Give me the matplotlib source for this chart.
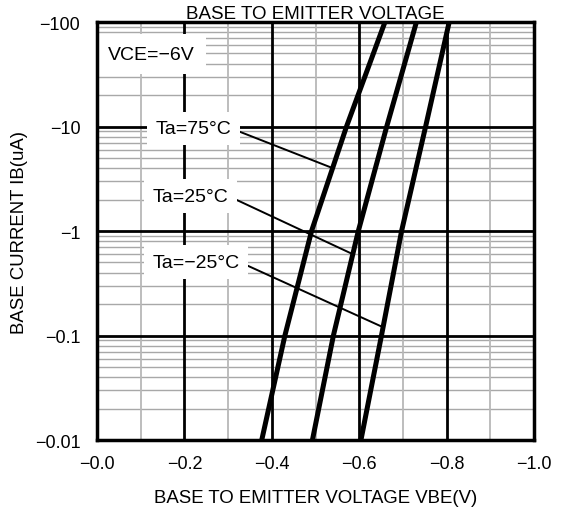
import numpy as np
import matplotlib
matplotlib.use("Agg")
import matplotlib.pyplot as plt

# ---- data (|VBE| in V, |IB| in uA) ----
ib_levels = [0.01, 0.1, 1, 10, 100]
vbe_75 = [0.377, 0.430, 0.491, 0.571, 0.659]
vbe_25 = [0.493, 0.541, 0.598, 0.663, 0.731]
vbe_m25 = [0.604, 0.651, 0.697, 0.752, 0.806]

x_ticks = [0.0, 0.2, 0.4, 0.6, 0.8, 1.0]
x_ticklabels = ["\u22120.0", "\u22120.2", "\u22120.4", "\u22120.6", "\u22120.8", "\u22121.0"]
y_ticks = [0.01, 0.1, 1, 10, 100]
y_ticklabels = ["\u22120.01", "\u22120.1", "\u22121", "\u221210", "\u2212100"]

plt.rcParams['font.family'] = ['Liberation Sans', 'DejaVu Sans']

fig = plt.figure(figsize=(5.62, 5.10), dpi=100)
ax = fig.add_axes([97/562, 1-441/510, (534-97)/562, (441-23)/510])

ax.set_yscale('log')
ax.set_xlim(0, 1.0)
ax.set_ylim(0.01, 100)

# grid
for d in [0.01, 0.1, 1, 10]:
    for k in range(2, 10):
        ax.axhline(d*k, color='#a8a8a8', lw=1.0, zorder=1)
for d in [0.1, 1, 10]:
    ax.axhline(d, color='black', lw=2.0, zorder=2)
for xv in [0.1, 0.3, 0.5, 0.7, 0.9]:
    ax.axvline(xv, color='#b8b8b8', lw=1.3, zorder=1)
for xv in [0.2, 0.4, 0.6, 0.8]:
    ax.axvline(xv, color='black', lw=2.0, zorder=2)

# curves
for v in (vbe_75, vbe_25, vbe_m25):
    ax.plot(v, ib_levels, color='black', lw=3.6, solid_capstyle='butt', zorder=4)

ax.set_xticks(x_ticks)
ax.set_xticklabels(x_ticklabels)
ax.set_yticks(y_ticks)
ax.set_yticklabels(y_ticklabels)
ax.minorticks_off()
ax.tick_params(length=0, labelsize=13)
ax.tick_params(axis='x', pad=11)
ax.tick_params(axis='y', pad=12)
for s in ax.spines.values():
    s.set_linewidth(2.5)
    s.set_zorder(5)

ax.set_title("BASE TO EMITTER VOLTAGE", fontsize=13.5, pad=2)
ax.set_xlabel("BASE TO EMITTER VOLTAGE VBE(V)", fontsize=13.4, labelpad=12)
ax.set_ylabel("BASE CURRENT IB(uA)", fontsize=13.4, labelpad=5)

def curve_x(v, i):
    return np.interp(np.log10(i), np.log10(ib_levels), v)

box = dict(facecolor='white', edgecolor='none', pad=6)
ax.text(0.025, 49.4, "VCE=\u22126V", fontsize=14, ha='left', va='center',
        bbox=dict(facecolor='white', edgecolor='none', pad=8), zorder=3)

arrow = dict(arrowstyle='-', lw=1.4, color='black', relpos=(1.0, 0.5), shrinkA=0, shrinkB=0)
for label, v, tx, ty, ti in [("Ta=75\u00b0C", vbe_75, 0.221, 9.57, 4.0),
                             ("Ta=25\u00b0C", vbe_25, 0.214, 2.16, 0.6),
                             ("Ta=\u221225\u00b0C", vbe_m25, 0.2265, 0.505, 0.12)]:
    ax.annotate(label, xy=(curve_x(v, ti), ti), xytext=(tx, ty), textcoords='data',
                fontsize=14, ha='center', va='center', bbox=box, arrowprops=arrow, zorder=3)

fig.savefig("out.png", dpi=100)
